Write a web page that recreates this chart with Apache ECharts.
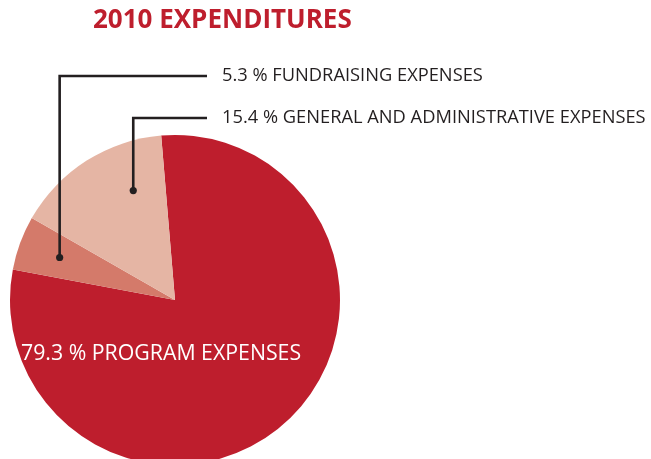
<!DOCTYPE html>
<html>
<head>
<meta charset="utf-8">
<script src="https://cdn.jsdelivr.net/npm/echarts@6/dist/echarts.min.js"></script>
<style>
html,body{margin:0;padding:0;background:#fff;}
#main{width:651px;height:459px;}
</style>
</head>
<body>
<div id="main"></div>
<script>
// ---- data ----
const categories = ['PROGRAM EXPENSES', 'FUNDRAISING EXPENSES', 'GENERAL AND ADMINISTRATIVE EXPENSES'];
const percents = [79.3, 5.3, 15.4];
const colors = ['#BE1E2D', '#D47A6A', '#E5B5A4'];
const titleText = '2010 EXPENDITURES';

// ---- layout ----
const CX = 175, CY = 300, R = 165, START = 94.8;
const labelY = [354, 76, 118];
const anchorFrac = [0.5, 0.5, 0.71];
const anchorRad = [0.5, 0.745, 0.71];
const LINE_END_X = 207, LABEL_X = 222;
const textColor = '#231F20';

const total = percents.reduce((a, b) => a + b, 0);
function anchor(i) {
  let cum = 0;
  for (let k = 0; k < i; k++) cum += percents[k];
  const a0 = START - 360 * cum / total;
  const span = 360 * percents[i] / total;
  const a = (a0 - anchorFrac[i] * span) * Math.PI / 180;
  const r = anchorRad[i] * R;
  return [CX + r * Math.cos(a), CY - r * Math.sin(a)];
}

const chart = echarts.init(document.getElementById('main'), null, {renderer: 'canvas'});

const leaders = [];
[1, 2].forEach(i => {
  const p = anchor(i);
  leaders.push({
    type: 'polyline', z: 100,
    shape: {points: [[p[0], p[1]], [p[0], labelY[i]], [LINE_END_X, labelY[i]]]},
    style: {stroke: textColor, lineWidth: 2.6, fill: null, lineJoin: 'miter'}
  });
  leaders.push({type: 'circle', z: 101, shape: {cx: p[0], cy: p[1], r: 3.6}, style: {fill: textColor}});
});

chart.setOption({
  animation: false,
  title: {
    text: titleText, left: 88, top: 3,
    textStyle: {color: '#BE1E2D', fontFamily: 'Open Sans', fontWeight: 'bold', fontSize: 26}
  },
  graphic: leaders,
  series: [{
    type: 'pie',
    center: [CX, CY],
    radius: R,
    startAngle: START,
    clockwise: true,
    avoidLabelOverlap: false,
    labelLine: {show: false},
    data: categories.map((c, i) => ({
      name: c, value: percents[i],
      itemStyle: {color: colors[i]},
      label: i === 0 ? {color: '#fff', fontSize: 21.3} : {color: textColor, fontSize: 18.3}
    })),
    label: {
      show: true,
      position: 'outside',
      formatter: p => p.value + ' % ' + p.name,
      fontFamily: 'Open Sans'
    },
    labelLayout: function (params) {
      const i = params.dataIndex;
      return {x: i === 0 ? 21 : LABEL_X, y: labelY[i], align: 'left', verticalAlign: 'middle'};
    }
  }]
});
</script>
</body>
</html>
